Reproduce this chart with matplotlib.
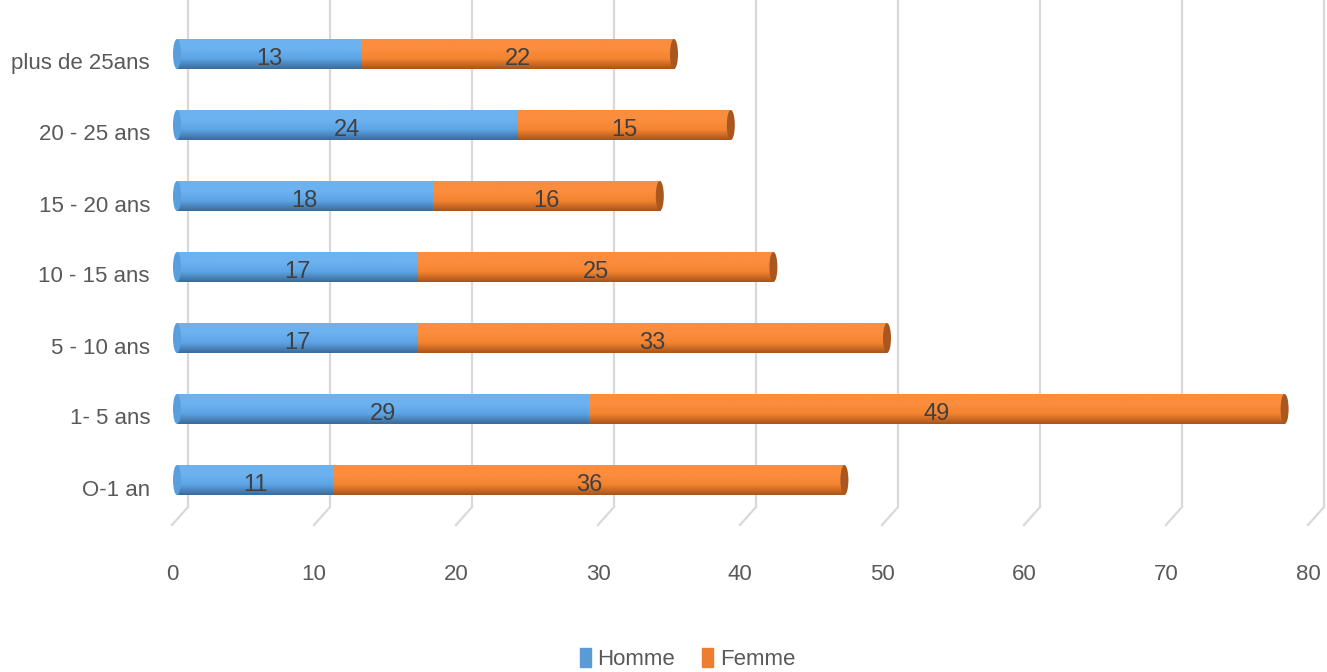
import numpy as np
import matplotlib.pyplot as plt
from matplotlib.patches import Ellipse, Patch
from matplotlib.colors import LinearSegmentedColormap

categories = ["O-1 an", "1- 5 ans", "5 - 10 ans", "10 - 15 ans", "15 - 20 ans", "20 - 25 ans", "plus de 25ans"]
homme = [11, 29, 17, 17, 18, 24, 13]
femme = [36, 49, 33, 25, 16, 15, 22]
ticks = [0, 10, 20, 30, 40, 50, 60, 70, 80]

BLEU = "#5B9BD5"
ORANGE = "#ED7D31"
GRIS = "#595959"
FONT = ["Liberation Sans", "DejaVu Sans"]

# echelle pixel: x = 177 + 14.2*v, y = 480 - 71*i
PX = 14.2
PY = 71.0
fig = plt.figure(figsize=(13.27, 6.72), dpi=100)
ax = fig.add_axes([0, 0, 1, 1])
ax.axis("off")

# grille "3D": mur du fond + plancher
dx_fond = 11 / PX
dx_avant = -5 / PX
y_haut = 480 / PY
y_coin = (480 - 507) / PY
y_bas = (480 - 525) / PY
for t in ticks:
    ax.plot([t + dx_fond, t + dx_fond], [y_haut, y_coin], color="#D9D9D9", lw=1.6, zorder=1)
    ax.plot([t + dx_fond, t + dx_avant], [y_coin, y_bas], color="#D9D9D9", lw=1.6, zorder=1)
    ax.text(t + dx_avant, (480 - 574) / PY, str(t), ha="center", va="center",
            fontsize=16, color=GRIS, family=FONT)

def degrade(clair, moyen, fonce):
    return LinearSegmentedColormap.from_list("d", [fonce, moyen, clair, clair])

cmap_b = degrade("#6CB2F0", "#5BA3E3", "#3B6B9A")
cmap_o = degrade("#FB8D3E", "#F2832F", "#A9541A")
h = 30 / PY
cap = 8 / PX
pos = np.arange(len(categories))

def barre(y, left, width, cmap):
    rect = ax.barh(y, width, left=left, height=h, color="none", zorder=2)[0]
    grad = np.linspace(0, 1, 50).reshape(-1, 1)
    im = ax.imshow(grad, cmap=cmap, aspect="auto", origin="lower",
                   extent=[left, left + width, y - h / 2, y + h / 2], zorder=2)
    im.set_clip_path(rect)

for i, y in enumerate(pos):
    barre(y, 0, homme[i], cmap_b)
    ax.add_patch(Ellipse((0, y), cap, h, facecolor="#5A9FDD", edgecolor="none", zorder=3))
    barre(y, homme[i], femme[i], cmap_o)
    ax.add_patch(Ellipse((homme[i] + femme[i], y), cap, h, facecolor="#A9561F",
                         edgecolor="none", zorder=3))
    ax.text(homme[i] / 2, y - 5 / PY, str(homme[i]), ha="center", va="center",
            fontsize=17, color="#404040", family=FONT, zorder=4)
    ax.text(homme[i] + femme[i] / 2, y - 5 / PY, str(femme[i]), ha="center", va="center",
            fontsize=17, color="#404040", family=FONT, zorder=4)
    ax.text(-27 / PX, y - 10 / PY, categories[i], ha="right", va="center",
            fontsize=16, color=GRIS, family=FONT)

ax.set_xlim(-177 / PX, (1327 - 177) / PX)
ax.set_ylim((480 - 672) / PY, 480 / PY)

handles = [Patch(color=BLEU, label="Homme"), Patch(color=ORANGE, label="Femme")]
fig.legend(handles=handles, loc="center", bbox_to_anchor=(0.518, 1 - 659 / 672), ncol=2,
           frameon=False, prop={"family": FONT, "size": 16}, labelcolor=GRIS,
           handlelength=0.5, handleheight=0.9, handletextpad=0.3, columnspacing=1.2)

fig.savefig("out.png", dpi=100)
